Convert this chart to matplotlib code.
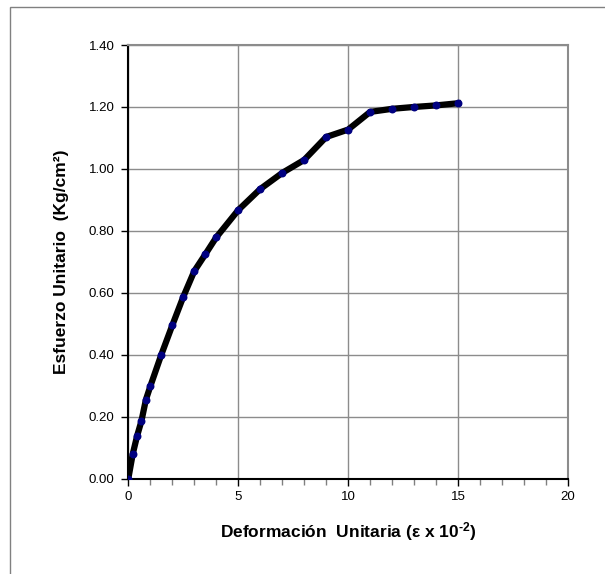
import matplotlib
matplotlib.use("Agg")
import matplotlib.pyplot as plt
from matplotlib.patches import Rectangle
from matplotlib.ticker import MultipleLocator, FormatStrFormatter

strain = [0, 0.2, 0.4, 0.6, 0.8, 1.0, 1.5, 2.0, 2.5, 3.0, 3.5, 4.0, 5, 6, 7, 8, 9, 10, 11, 12, 13, 14, 15]
stress = [0.0, 0.079, 0.138, 0.187, 0.255, 0.298, 0.400, 0.495, 0.587, 0.670, 0.724, 0.779,
          0.867, 0.935, 0.987, 1.029, 1.103, 1.127, 1.184, 1.194, 1.200, 1.205, 1.212]

xlabel = "Deformación  Unitaria (ε x 10$^{\\text{-2}}$)"
ylabel = "Esfuerzo Unitario  (Kg/cm²)"

plt.rcParams['font.family'] = ['Liberation Sans', 'DejaVu Sans']
plt.rcParams['mathtext.fontset'] = 'custom'
plt.rcParams['mathtext.rm'] = 'Liberation Sans:bold'
plt.rcParams['mathtext.it'] = 'Liberation Sans:bold'
plt.rcParams['mathtext.bf'] = 'Liberation Sans:bold'

W, H = 605, 574
fig = plt.figure(figsize=(W / 100, H / 100), dpi=100)
fig.patch.set_facecolor('white')

# outer frame
fig.patches.append(Rectangle((10 / W, -0.1), 2, (H - 7) / H + 0.1, transform=fig.transFigure,
                             fill=False, edgecolor='#808080', linewidth=1.0))

x0, x1 = 128.3, 568
y0, y1 = 478.7, 45
ax = fig.add_axes([x0 / W, 1 - y0 / H, (x1 - x0) / W, (y0 - y1) / H])

ax.plot(strain, stress, color='black', linewidth=4.5, solid_joinstyle='round', zorder=3)
ax.plot(strain, stress, linestyle='none', marker='o', markersize=4.5,
        markerfacecolor='#000080', markeredgecolor='#000080', markeredgewidth=1.2, zorder=4)

ax.set_xlim(0, 20)
ax.set_ylim(0, 1.4)
ax.xaxis.set_major_locator(MultipleLocator(5))
ax.xaxis.set_minor_locator(MultipleLocator(1))
ax.yaxis.set_major_locator(MultipleLocator(0.2))
ax.yaxis.set_major_formatter(FormatStrFormatter('%.2f'))

ax.grid(True, which='major', color='#8c8c8c', linewidth=1.0)
ax.set_axisbelow(True)
for s in ['top', 'right']:
    ax.spines[s].set_color('#8c8c8c')
    ax.spines[s].set_linewidth(1.5)
for s in ['left', 'bottom']:
    ax.spines[s].set_color('black')
    ax.spines[s].set_linewidth(1.5)

ax.tick_params(axis='both', which='major', direction='out', length=5, width=1, labelsize=9.5,
               colors='black')
ax.tick_params(axis='x', which='major', pad=4)
ax.tick_params(axis='y', which='major', pad=5)
ax.tick_params(axis='x', which='minor', direction='out', length=4, width=1, color='#808080')

ax.set_xlabel(xlabel, fontsize=12.5, fontweight='bold', labelpad=12)
ax.set_ylabel(ylabel, fontsize=12.5, fontweight='bold', labelpad=14)

fig.savefig('out.png', dpi=100, facecolor='white')
